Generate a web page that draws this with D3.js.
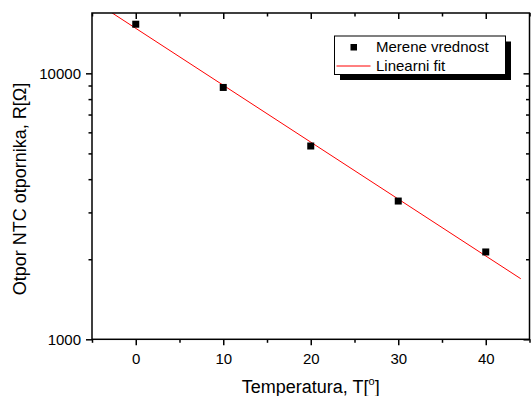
<!DOCTYPE html>
<html>
<head>
<meta charset="utf-8">
<script src="https://cdn.jsdelivr.net/npm/d3@7"></script>
<style>
    body { margin: 0; background: #fff; }
    text { font-family: "Liberation Sans", Arial, sans-serif; fill: #000; }
</style>
</head>
<body>
<div id="chart"></div>
<script>
let temperatures = [0, 10, 20, 30, 40];
let resistances = [15300, 8850, 5330, 3310, 2130];
let xMajorTicks = [0, 10, 20, 30, 40];
let xMinorTicks = [-5, 5, 15, 25, 35, 45];
let yMajorTicks = [1000, 10000];
let yMinorTicks = [2000, 3000, 4000, 5000, 6000, 7000, 8000, 9000];
let fitRange = [-5, 44];

let width = 531, height = 396;
let margin = {top: 13, right: 1.5, bottom: 56.7, left: 92};
let innerW = width - margin.left - margin.right,
    innerH = height - margin.top - margin.bottom;

let svg = d3.select('#chart').append('svg')
    .attr('width', width)
    .attr('height', height);

let g = svg.append('g')
    .attr('transform', `translate(${margin.left},${margin.top})`);

let x = d3.scaleLinear().domain([-5, 45]).range([0, innerW]);
let y = d3.scaleLog().domain([1000, 16860]).range([innerH, 0]);

// least squares fit of log10(R) against T
function linearFit(xs, ys) {
    let ly = ys.map(v => Math.log10(v));
    let mx = d3.mean(xs), my = d3.mean(ly);
    let num = d3.sum(xs, (v, i) => (v - mx) * (ly[i] - my));
    let den = d3.sum(xs, v => (v - mx) * (v - mx));
    let slope = num / den;
    return {slope: slope, intercept: my - slope * mx};
}

let fit = linearFit(temperatures, resistances);
let fitPoints = fitRange.map(t => [t, Math.pow(10, fit.intercept + fit.slope * t)]);

g.append('clipPath').attr('id', 'plotclip')
    .append('rect').attr('width', innerW).attr('height', innerH);

g.append('path')
    .datum(fitPoints)
    .attr('clip-path', 'url(#plotclip)')
    .attr('fill', 'none')
    .attr('stroke', '#ff0000')
    .attr('stroke-width', 1)
    .attr('d', d3.line().x(d => x(d[0])).y(d => y(d[1])));

g.selectAll('.point')
    .data(temperatures)
    .enter().append('rect')
    .attr('class', 'point')
    .attr('x', (d) => x(d) - 3.5)
    .attr('y', (d, i) => y(resistances[i]) - 3.5)
    .attr('width', 7)
    .attr('height', 7)
    .attr('fill', '#000');

function styleAxis(sel) {
    sel.select('.domain').remove();
    sel.selectAll('line').attr('stroke', '#000').attr('stroke-width', 1.5);
    sel.selectAll('text').style('font-size', '15px').style('font-family', '"Liberation Sans", Arial, sans-serif');
}

// bottom axis
g.append('g').attr('transform', `translate(0,${innerH})`)
    .call(d3.axisBottom(x).tickValues(xMajorTicks).tickSize(6).tickPadding(8).tickSizeOuter(0))
    .call(styleAxis);
g.append('g').attr('transform', `translate(0,${innerH})`)
    .call(d3.axisBottom(x).tickValues(xMinorTicks).tickSize(3.5).tickFormat('').tickSizeOuter(0))
    .call(styleAxis);

// top axis, ticks inward
g.append('g')
    .call(d3.axisBottom(x).tickValues(xMajorTicks).tickSize(6).tickFormat('').tickSizeOuter(0))
    .call(styleAxis);
g.append('g')
    .call(d3.axisBottom(x).tickValues(xMinorTicks).tickSize(3.5).tickFormat('').tickSizeOuter(0))
    .call(styleAxis);

// left axis
g.append('g')
    .call(d3.axisLeft(y).tickValues(yMajorTicks).tickSize(6).tickPadding(5).tickFormat(d3.format('d')).tickSizeOuter(0))
    .call(styleAxis);
g.append('g')
    .call(d3.axisLeft(y).tickValues(yMinorTicks).tickSize(3.5).tickFormat('').tickSizeOuter(0))
    .call(styleAxis);

// right axis, ticks inward
g.append('g').attr('transform', `translate(${innerW},0)`)
    .call(d3.axisRight(y).tickValues(yMajorTicks).tickSize(-6).tickFormat('').tickSizeOuter(0))
    .call(styleAxis);
g.append('g').attr('transform', `translate(${innerW},0)`)
    .call(d3.axisRight(y).tickValues(yMinorTicks).tickSize(-3.5).tickFormat('').tickSizeOuter(0))
    .call(styleAxis);

// frame
g.append('rect')
    .attr('width', innerW)
    .attr('height', innerH)
    .attr('fill', 'none')
    .attr('stroke', '#000')
    .attr('stroke-width', 1.5);

// axis titles
let xTitle = svg.append('text')
    .attr('x', margin.left + innerW / 2)
    .attr('y', 393)
    .attr('text-anchor', 'middle')
    .style('font-size', '18px');
xTitle.append('tspan').text('Temperatura, T[');
xTitle.append('tspan').attr('dy', -8).style('font-size', '11px').text('o');
xTitle.append('tspan').attr('dy', 8).text(']');

svg.append('text')
    .attr('transform', 'translate(25.5,189) rotate(-90)')
    .attr('text-anchor', 'middle')
    .style('font-size', '18px')
    .text('Otpor NTC otpornika, R[Ω]');

// legend
let legend = svg.append('g').attr('transform', 'translate(334.5,36)');
legend.append('rect')
    .attr('x', 5.5).attr('y', 5.5)
    .attr('width', 171).attr('height', 38.5)
    .attr('fill', '#000');
legend.append('rect')
    .attr('width', 171).attr('height', 38.5)
    .attr('fill', '#fff')
    .attr('stroke', '#000')
    .attr('stroke-width', 1);
legend.append('rect')
    .attr('x', 16).attr('y', 8)
    .attr('width', 6.5).attr('height', 6.5)
    .attr('fill', '#000');
legend.append('line')
    .attr('x1', 2).attr('x2', 36)
    .attr('y1', 30).attr('y2', 30)
    .attr('stroke', '#ff0000')
    .attr('stroke-width', 1);
legend.append('text')
    .attr('x', 41.5).attr('y', 16)
    .style('font-size', '15px')
    .text('Merene vrednost');
legend.append('text')
    .attr('x', 41.5).attr('y', 34.7)
    .style('font-size', '15px')
    .text('Linearni fit');
</script>
</body>
</html>
